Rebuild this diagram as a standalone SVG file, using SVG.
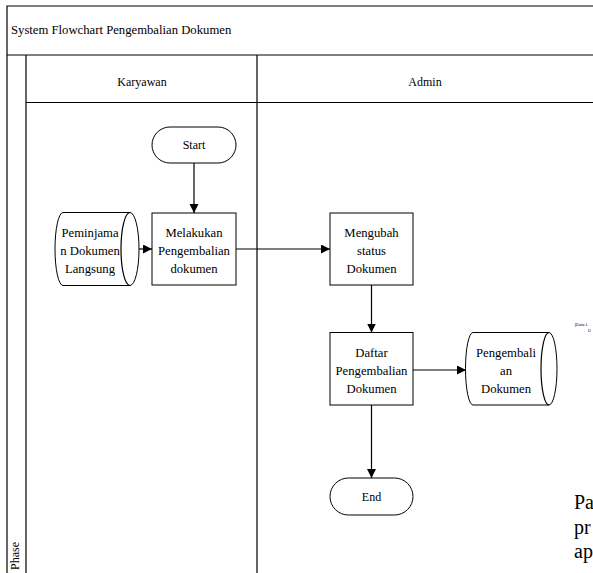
<svg xmlns="http://www.w3.org/2000/svg" width="593" height="573" viewBox="0 0 593 573">
  <style>
    .frame { fill: none; stroke: #000; stroke-width: 1.2; }
    .shape { fill: #fff; stroke: #000; stroke-width: 1; }
    .edge { fill: none; stroke: #000; stroke-width: 1.2; }
    .lbl { font-family: "Liberation Serif", "Times New Roman", serif; font-size: 12.7px; fill: #000; text-anchor: middle; }
    .small { font-family: "Liberation Serif", "Times New Roman", serif; font-size: 12px; fill: #000; }
    .title { font-size: 12.7px; }
    .big { font-family: "Liberation Serif", "Times New Roman", serif; font-size: 20px; fill: #000; }
    .tiny { font-family: "Liberation Sans", Arial, sans-serif; font-size: 4px; fill: #000; }
  </style>
  <defs>
    <marker id="arrow" markerWidth="10" markerHeight="10" refX="9" refY="4.5" orient="auto" markerUnits="userSpaceOnUse">
      <path d="M0,0 L9,4.5 L0,9 Z" fill="#000"/>
    </marker>
  </defs>

  <rect width="593" height="573" fill="#fff"/>

  <!-- swimlane pool -->
  <g id="pool">
    <path class="frame" d="M7,573 V6 H600 M7,55 H600 M26,55 V573 M26,102.5 H600 M257,55 V573"/>
    <text class="small title" x="11" y="34">System Flowchart Pengembalian Dokumen</text>
    <text class="small" x="142" y="86" text-anchor="middle">Karyawan</text>
    <text class="small" x="425" y="86" text-anchor="middle">Admin</text>
    <text class="small" transform="translate(19,556) rotate(-90)" text-anchor="middle">Phase</text>
  </g>

  <!-- connectors -->
  <g id="connectors">
    <path class="edge" d="M194,163 V213" marker-end="url(#arrow)"/>
    <path class="edge" d="M131,249 H152" marker-end="url(#arrow)"/>
    <path class="edge" d="M236,249 H330" marker-end="url(#arrow)"/>
    <path class="edge" d="M371.5,285 V332.5" marker-end="url(#arrow)"/>
    <path class="edge" d="M413,370 H466" marker-end="url(#arrow)"/>
    <path class="edge" d="M371.5,405 V478" marker-end="url(#arrow)"/>
  </g>

  <g id="start">
    <rect class="shape" x="152" y="127" width="84" height="36" rx="18"/>
    <text class="small" x="194" y="149" text-anchor="middle">Start</text>
  </g>

  <g id="peminjaman">
    <path class="shape" d="M63,212.5 H130 A9,36.5 0 0 1 130,285.5 H63 A8,36.5 0 0 1 63,212.5 Z"/>
    <path class="edge" d="M130,212.5 A9,36.5 0 0 0 130,285.5" stroke-width="1"/>
    <text class="lbl" x="90" y="237">Peminjama</text>
    <text class="lbl" x="90" y="255">n Dokumen</text>
    <text class="lbl" x="90" y="273">Langsung</text>
  </g>

  <g id="melakukan">
    <rect class="shape" x="152" y="213" width="84" height="72"/>
    <text class="lbl" x="194" y="237">Melakukan</text>
    <text class="lbl" x="194" y="255">Pengembalian</text>
    <text class="lbl" x="194" y="273">dokumen</text>
  </g>

  <g id="mengubah">
    <rect class="shape" x="330" y="213" width="83" height="72"/>
    <text class="lbl" x="371.5" y="237">Mengubah</text>
    <text class="lbl" x="371.5" y="255">status</text>
    <text class="lbl" x="371.5" y="273">Dokumen</text>
  </g>

  <g id="daftar">
    <rect class="shape" x="330" y="332.5" width="83" height="72.5"/>
    <text class="lbl" x="371.5" y="357">Daftar</text>
    <text class="lbl" x="371.5" y="375">Pengembalian</text>
    <text class="lbl" x="371.5" y="393">Dokumen</text>
  </g>

  <g id="pengembalian">
    <path class="shape" d="M473,332.5 H549 A8,36.25 0 0 1 549,405 H473 A7.5,36.25 0 0 1 473,332.5 Z"/>
    <path class="edge" d="M549,332.5 A8,36.25 0 0 0 549,405" stroke-width="1"/>
    <text class="lbl" x="506" y="357">Pengembali</text>
    <text class="lbl" x="506" y="375">an</text>
    <text class="lbl" x="506" y="393">Dokumen</text>
  </g>

  <g id="end">
    <rect class="shape" x="330" y="478" width="83" height="37" rx="18.5"/>
    <text class="small" x="371.5" y="501" text-anchor="middle">End</text>
  </g>

  <!-- note text running off the right edge -->
  <g id="note">
    <text class="tiny" x="575" y="326">[Data L</text>
    <text class="tiny" x="588" y="332">D</text>
    <text class="big" x="574" y="509">Pa</text>
    <text class="big" x="574" y="534">pr</text>
    <text class="big" x="574" y="558">ap</text>
  </g>
</svg>
